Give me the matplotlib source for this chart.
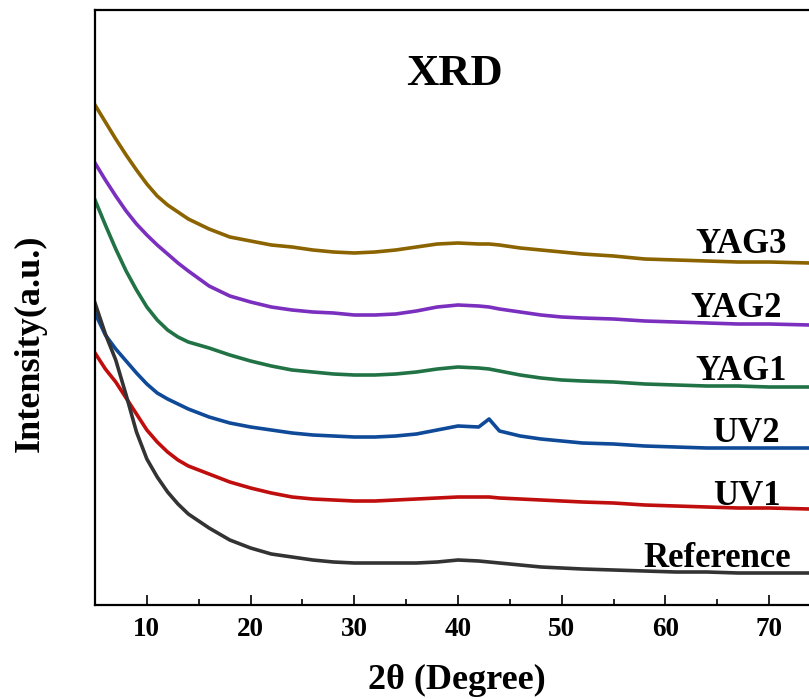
import matplotlib
matplotlib.use("Agg")
import numpy as np
import matplotlib.pyplot as plt
from matplotlib.ticker import MultipleLocator

plt.rcParams['font.family'] = ['Liberation Serif', 'DejaVu Serif']
plt.rcParams['font.weight'] = 'bold'
plt.rcParams['axes.labelweight'] = 'bold'

# 2theta positions (degree) where the curves were read
two_theta = [5, 6, 7, 8, 9, 10, 11, 12, 13, 14, 16, 18, 20, 22, 24, 26, 28, 30,
             32, 34, 36, 38, 40, 42, 43, 44, 46, 48, 50, 52, 55, 58, 61, 64,
             67, 70, 73.9]

# stacked intensities (a.u., offsets included)
yag3 = [500, 483, 466, 450, 435, 421, 409, 400, 393, 386, 376, 368, 364, 360,
        358, 355, 353, 352, 353, 355, 358, 361, 362, 361, 361, 360, 357, 355,
        353, 351, 349, 346, 345, 344, 343, 343, 342]
yag2 = [442, 425, 409, 394, 381, 370, 360, 351, 342, 334, 319, 309, 303, 298,
        295, 293, 292, 290, 290, 291, 294, 298, 300, 299, 298, 296, 293, 290,
        288, 287, 286, 284, 283, 282, 281, 281, 280]
yag1 = [405, 380, 356, 334, 315, 298, 285, 275, 268, 263, 257, 250, 244, 239,
        235, 233, 231, 230, 230, 231, 233, 236, 238, 237, 236, 234, 230, 227,
        225, 224, 223, 221, 220, 219, 219, 218, 218]
uv2 = [292, 270, 256, 244, 232, 221, 212, 206, 201, 196, 188, 182, 178, 175,
       172, 170, 169, 168, 168, 169, 171, 175, 179, 178, 186, 174, 169, 166,
       164, 162, 161, 159, 158, 157, 157, 157, 157]
uv1 = [252, 236, 223, 207, 191, 175, 163, 153, 145, 139, 131, 123, 117, 112,
       108, 106, 105, 104, 104, 105, 106, 107, 108, 108, 108, 107, 106, 105,
       104, 103, 102, 100, 99, 98, 97, 97, 96]
reference = [302, 271, 245, 210, 173, 146, 128, 113, 101, 91, 77, 65, 57, 51,
             48, 45, 43, 42, 42, 42, 42, 43, 45, 44, 43, 42, 40, 38, 37, 36,
             35, 34, 33, 33, 32, 32, 32]

names = ["YAG3", "YAG2", "YAG1", "UV2", "UV1", "Reference"]
series = [yag3, yag2, yag1, uv2, uv1, reference]
colors = ["#8b6400", "#7b2fbe", "#217346", "#0f4a99", "#c00d0d", "#333333"]
# label anchors (left edge, baseline) in data units
label_pos = [(62.9, 352), (62.4, 288), (62.9, 225), (64.5, 163), (64.6, 100), (57.85, 38)]

fig = plt.figure(figsize=(8.09, 6.99), dpi=100)
ax = fig.add_axes([95 / 809, 94 / 699, 714 / 809, 595 / 699])

for vals, c in zip(series, colors):
    ax.plot(two_theta, vals, color=c, lw=2.6)

for name, (lx, ly) in zip(names, label_pos):
    ax.text(lx, ly, name, fontsize=25, ha='left', va='baseline')

ax.text(0.504, 0.874, "XRD", transform=ax.transAxes, fontsize=32,
        ha='center', va='baseline')

ax.set_xlim(5, 73.85)
ax.set_ylim(0, 595)
ax.xaxis.set_major_locator(MultipleLocator(10))
ax.xaxis.set_minor_locator(MultipleLocator(5))
ax.tick_params(axis='x', which='major', direction='in', length=7.5, width=1.2,
               labelsize=19.5, pad=9)
ax.tick_params(axis='x', which='minor', direction='in', length=4.3, width=1.2)
ax.set_yticks([])
for s in ['left', 'bottom', 'top']:
    ax.spines[s].set_linewidth(1.6)
ax.spines['right'].set_visible(False)

ax.set_xlabel("2θ (Degree)", fontsize=26, fontweight='bold')
ax.xaxis.set_label_coords(0.507, -0.099)
ax.set_ylabel("Intensity(a.u.)", fontsize=26, fontweight='bold')
ax.yaxis.set_label_coords(-0.067, 0.44)

fig.savefig("out.png", dpi=100)
